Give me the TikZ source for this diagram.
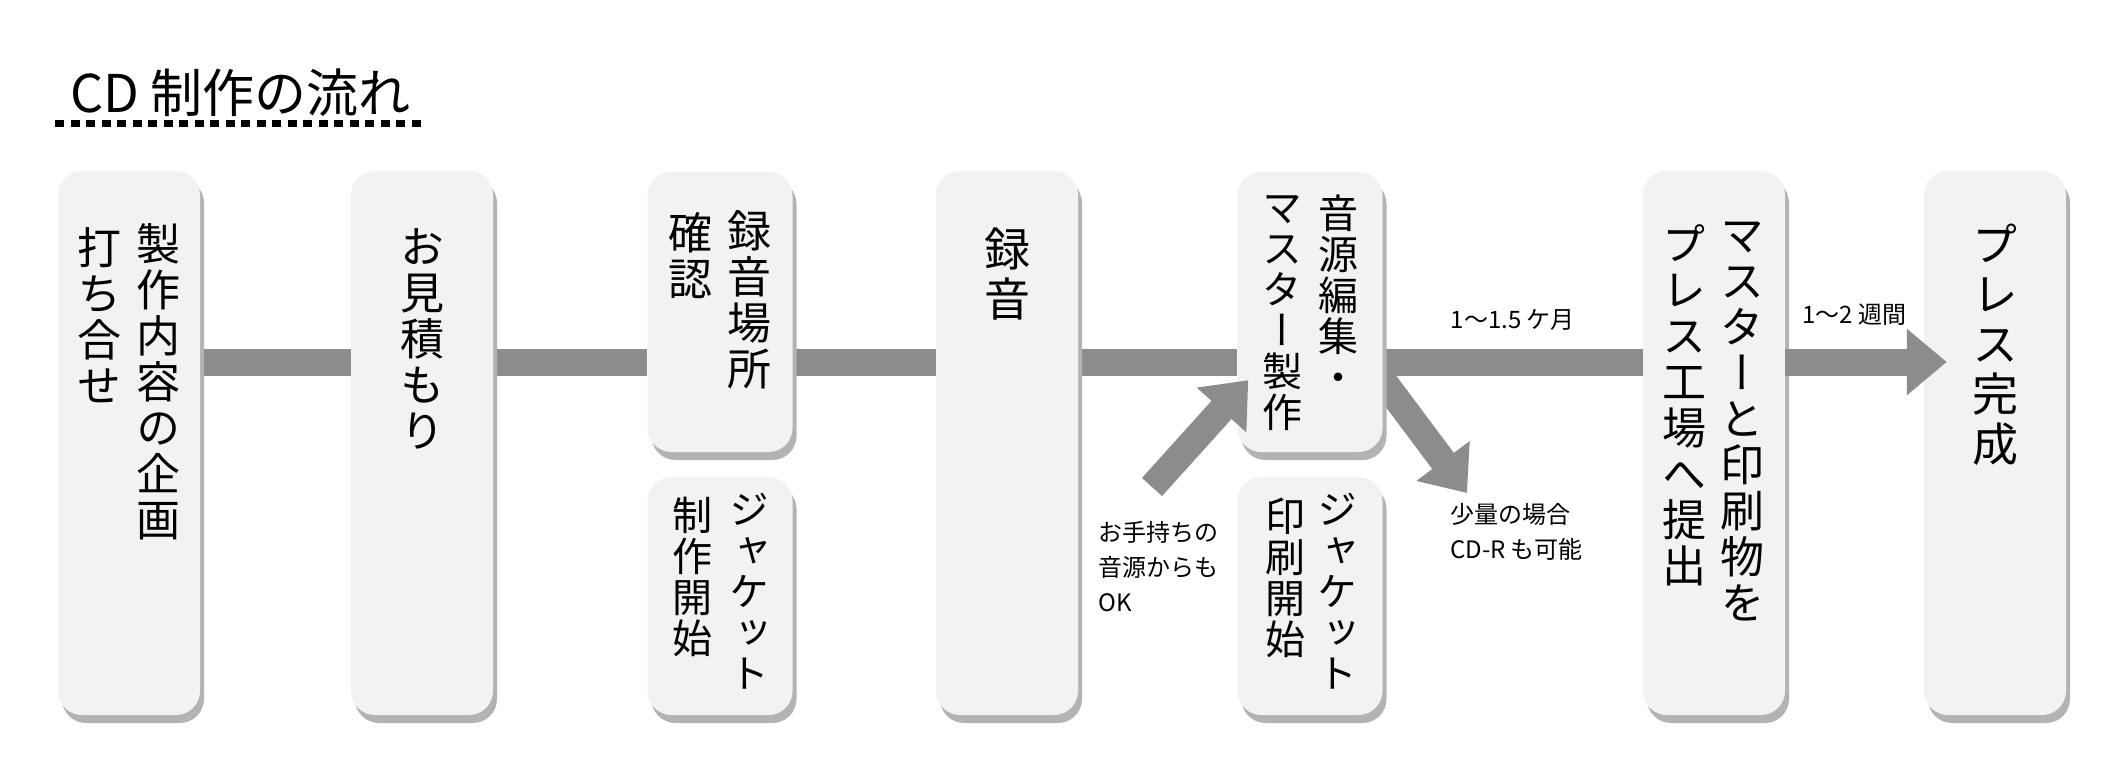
\documentclass[tikz,border=0pt]{standalone}
\usepackage{fontspec}
\setmainfont{Noto Sans CJK JP}
\newfontfamily\tatefont[RawFeature=+vert]{Noto Sans CJK JP}
\usepackage{tikz}
\usetikzlibrary{positioning,calc,arrows.meta,shadows}
\definecolor{boxgray}{HTML}{F2F2F2}
\definecolor{shadowgray}{HTML}{B3B3B3}
\definecolor{flowgray}{HTML}{8C8C8C}
\pgfdeclarelayer{background}
\pgfsetlayers{background,main}

\begin{document}
\begin{tikzpicture}[x=1pt,y=-1pt,
    stage/.style={rounded corners=24pt,fill=boxgray,minimum width=142pt,inner sep=0pt,
        drop shadow={shadow xshift=4pt,shadow yshift=-8pt,fill=shadowgray,opacity=1}},
    tate/.style={font=\tatefont\fontsize{44}{46}\selectfont,align=center,inner sep=0pt,anchor=north},
    tatebig/.style={tate,font=\tatefont\fontsize{46}{50}\selectfont},
    tatesm/.style={tate,font=\tatefont\fontsize{40}{41}\selectfont},
    bar/.style={line width=27pt,draw=flowgray},
    flow/.style={bar,-{Triangle[length=40pt,width=64pt]}},
    note/.style={font=\fontsize{24}{35}\selectfont,align=left,inner sep=0pt,anchor=north west},
    lbl/.style={font=\fontsize{24}{28}\selectfont,inner sep=0pt}]
\useasboundingbox (0,0) rectangle (2126,774);
%Title
    \node[font=\fontsize{52}{60}\selectfont,inner sep=0pt,anchor=base west] (ttl) at (70,112) {CD 制作の流れ};
    \draw[line width=7pt,dash pattern=on 9pt off 6.5pt] ($(ttl.base west)+(-15,11)$) -- ($(ttl.base east)+(12,11)$);
%Nodes
    \node[stage,minimum height=544pt] (b1) at (129,443) {};
    \node[stage,minimum height=544pt] (b2) at (422,443) {};
    \node[stage,minimum height=280pt,minimum width=145pt] (b3a) at (720,312) {};
    \node[stage,minimum height=238pt,minimum width=145pt] (b3b) at (720,596) {};
    \node[stage,minimum height=544pt] (b4) at (1007,443) {};
    \node[stage,minimum height=280pt,minimum width=145pt] (b5a) at (1310,312) {};
    \node[stage,minimum height=238pt,minimum width=145pt] (b5b) at (1310,596) {};
    \node[stage,minimum height=544pt] (b6) at (1714,443) {};
    \node[stage,minimum height=544pt] (b7) at (1995,443) {};
%Texts
    \node[tate] (t1r) at (158,223) {製\\作\\内\\容\\の\\企\\画};
    \node[tate] (t1l) at (99,227) {打\\ち\\合\\せ};
    \node[tate] (t2) at (422,228) {お\\見\\積\\も\\り};
    \node[tate] (t3r) at (749,210) {録\\音\\場\\所};
    \node[tate] (t3l) at (690,212) {確\\認};
    \node[tatesm] (t3br) at (749,493) {ジ\\ャ\\ケ\\ッ\\ト};
    \node[tatesm] (t3bl) at (692,497) {制\\作\\開\\始};
    \node[tatebig] (t4) at (1007,228) {録\\音};
    \node[tatesm] (t5r) at (1338,195) {音\\源\\編\\集\\・};
    \node[tatesm] (t5l) at (1282,195) {マ\\ス\\タ\\ー\\製\\作};
    \node[tatesm] (t5br) at (1337,493) {ジ\\ャ\\ケ\\ッ\\ト};
    \node[tatesm] (t5bl) at (1285,498) {印\\刷\\開\\始};
    \node[tate] (t6r) at (1742,222) {マ\\ス\\タ\\ー\\と\\印\\刷\\物\\を};
    \node[tate] (t6l) at (1684,224) {プ\\レ\\ス\\工\\場\\へ\\提\\出};
    \node[tatebig] (t7) at (1995,224) {プ\\レ\\ス\\完\\成};
    \node[note] (own) at (1098,521) {お手持ちの\\音源からも\\OK};
    \node[note] (small) at (1450,503) {少量の場合\\CD-R も可能};
    \coordinate (bary) at (0,362);
    \coordinate (src) at (1152,487);
    \coordinate (cdr) at (1467,493);
%Lines
\begin{pgfonlayer}{background}
    \draw[bar] (b1.east |- bary) -- (b2.west |- bary);
    \draw[bar] (b2.east |- bary) -- (b3a.west |- bary);
    \draw[bar] (b3a.east |- bary) -- (b4.west |- bary);
    \draw[bar] (b4.east |- bary) -- (b5a.west |- bary);
    \draw[bar] (b5a.east |- bary) -- (b6.west |- bary)
        node[lbl,midway,above=18pt] (m1) {1〜1.5 ケ月};
    \draw[flow] ($(b5a.south east)+(-15,-92)$) -- (cdr);
\end{pgfonlayer}
    \draw[flow,shorten >=-23pt] (b6.east |- bary) -- (b7.west |- bary)
        node[lbl,midway,above=23pt] (m2) {1〜2 週間};
    \draw[flow] (src) -- ($(b5a.south west)+(11,-72)$);
\end{tikzpicture}
\end{document}
